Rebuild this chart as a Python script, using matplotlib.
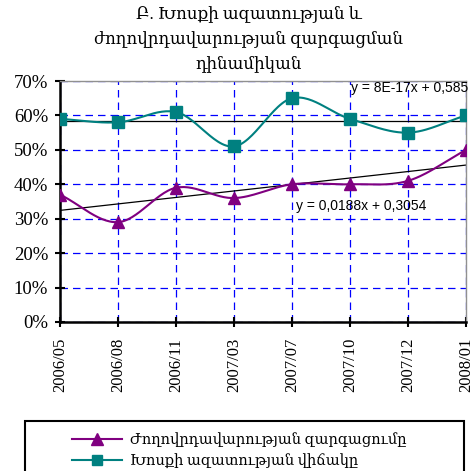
import numpy as np
import matplotlib.pyplot as plt
from matplotlib.patches import Rectangle
from matplotlib.ticker import PercentFormatter

plt.rcParams['font.family'] = ['Liberation Serif', 'DejaVu Serif']

# Data
periods = ['2006/05', '2006/08', '2006/11', '2007/03',
           '2007/07', '2007/10', '2007/12', '2008/01']
democracy = [0.37, 0.29, 0.39, 0.36, 0.40, 0.40, 0.41, 0.50]
speech = [0.59, 0.58, 0.61, 0.51, 0.65, 0.59, 0.55, 0.60]

label_dem = 'Ժողովրդավարության զարգացումը'
label_speech = 'Խոսքի ազատության վիճակը'
title = 'Բ. Խոսքի ազատության և\nժողովրդավարության զարգացման\nդինամիկան'

teal = '#008080'
purple = '#800080'
serif = ['Liberation Serif', 'DejaVu Serif']


def smooth(y, n=30):
    # Bezier curve through the points, like Excel's smoothed line
    y = np.asarray(y, float)
    x = np.arange(len(y), dtype=float)
    px = np.concatenate([[2 * x[0] - x[1]], x, [2 * x[-1] - x[-2]]])
    py = np.concatenate([[2 * y[0] - y[1]], y, [2 * y[-1] - y[-2]]])
    xs, ys = [], []
    t = np.linspace(0, 1, n)
    for i in range(1, len(px) - 2):
        for p, out in ((px, xs), (py, ys)):
            p0, p1, p2, p3 = p[i - 1], p[i], p[i + 1], p[i + 2]
            c1 = p1 + (p2 - p0) / 6
            c2 = p2 - (p3 - p1) / 6
            seg = ((1 - t) ** 3 * p1 + 3 * (1 - t) ** 2 * t * c1
                   + 3 * (1 - t) * t ** 2 * c2 + t ** 3 * p2)
            out.extend(seg)
    return np.array(xs), np.array(ys)


fig = plt.figure(figsize=(4.74, 4.71), dpi=100)
ax = fig.add_axes([60 / 474, 1 - 322 / 471, 406 / 474, 241 / 471])

idx = np.arange(len(periods))

# trend lines
for series in (speech, democracy):
    k, b = np.polyfit(idx + 1, series, 1)
    ax.plot(idx, k * (idx + 1) + b, color='black', lw=0.9, zorder=2)

for series, col, mk, ms in ((speech, teal, 's', 8.5), (democracy, purple, '^', 8.5)):
    sx, sy = smooth(series)
    ax.plot(sx, sy, color=col, lw=1.5, zorder=3)
    ax.plot(idx, series, ls='none', marker=mk, ms=ms, color=col, zorder=4)

ax.set_xlim(0, len(periods) - 1)
ax.set_ylim(0, 0.7)
ax.set_yticks(np.arange(0, 0.71, 0.1))
ax.yaxis.set_major_formatter(PercentFormatter(1.0, decimals=0))
ax.set_xticks(idx)
ax.set_xticklabels(periods, rotation=90)
ax.tick_params(axis='y', labelsize=13.5, direction='inout', length=7, width=1.5, pad=5)
ax.tick_params(axis='x', labelsize=12, direction='inout', length=7, width=1.5, pad=8)
for lab in ax.get_xticklabels() + ax.get_yticklabels():
    lab.set_family(serif)

ax.grid(True, color='blue', ls=(0, (6, 4)), lw=0.9)
ax.set_axisbelow(True)
for s in ('left', 'bottom'):
    ax.spines[s].set_linewidth(1.8)
    ax.spines[s].set_color('black')
for s in ('top', 'right'):
    ax.spines[s].set_color('#909090')
    ax.spines[s].set_linewidth(1.0)

ax.text(5.02, 0.668, 'y = 8E-17x + 0,585', family='Liberation Sans', fontsize=10)
ax.text(4.07, 0.325, 'y = 0,0188x + 0,3054', family='Liberation Sans', fontsize=10)

fig.text(0.525, 0.989, title, ha='center', va='top', fontsize=12, linespacing=1.65)

# legend box, runs off the bottom edge like the original
fig.patches.append(Rectangle((25 / 474, -0.05), 439 / 474, 0.05 + 50 / 471,
                             transform=fig.transFigure, fill=False,
                             edgecolor='black', lw=1.5))
h1, = ax.plot([], [], color=purple, marker='^', ms=8, lw=1.5)
h2, = ax.plot([], [], color=teal, marker='s', ms=7, lw=1.5)
fig.legend([h1, h2], [label_dem, label_speech], loc='upper left',
           bbox_to_anchor=(72 / 474, 1 - 432 / 471), frameon=False,
           fontsize=10.5, handlelength=3.4, handletextpad=0.6,
           labelspacing=0.45, borderaxespad=0, borderpad=0)

fig.savefig('out.png', dpi=100)
